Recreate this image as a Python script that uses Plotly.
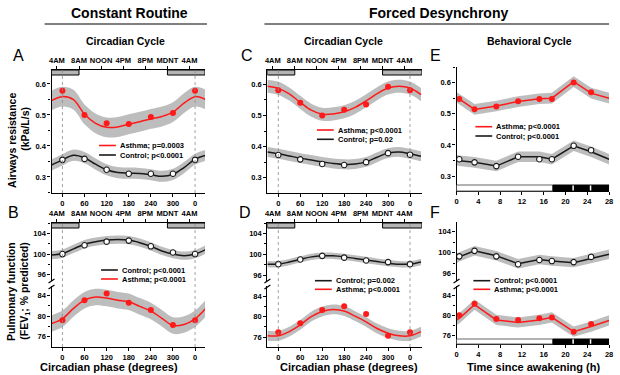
import plotly.graph_objects as go

# ---------------- data ----------------
phase_pts = [0, 60, 120, 180, 240, 300, 360]
phase_fit = [-30, 0, 30, 60, 90, 120, 150, 180, 210, 240, 270, 300, 330, 360, 390]
phase_ticks = [0, 60, 120, 180, 240, 300, 360]
phase_ticktext = ["0", "60", "120", "180", "240", "300", "0"]
clock_ticks = [-15, 45, 105, 165, 225, 285, 345]
clock_labels = ["4AM", "8AM", "NOON", "4PM", "8PM", "MDNT", "4AM"]
sleep_start_deg = 285   # MDNT
sleep_end_deg = 45      # 8AM
ref_phase_lines = [0, 360]

# Panel A - airway resistance, constant routine
A_asthma_pts = [0.578, 0.500, 0.473, 0.471, 0.493, 0.506, 0.578]
A_asthma_fit = [0.546, 0.559, 0.549, 0.502, 0.473, 0.460, 0.461, 0.470, 0.478, 0.487, 0.495, 0.509, 0.538, 0.559, 0.549]
A_asthma_ci = 0.032
A_ctrl_pts = [0.355, 0.358, 0.323, 0.310, 0.310, 0.310, 0.355]
A_ctrl_fit = [0.338, 0.355, 0.370, 0.362, 0.341, 0.323, 0.314, 0.312, 0.311, 0.307, 0.302, 0.308, 0.330, 0.357, 0.370]
A_ctrl_ci = 0.018

# Panel B - FEV1, constant routine
B_ctrl_pts = [100.0, 101.7, 102.4, 102.6, 101.5, 100.3, 100.0]
B_ctrl_fit = [99.8, 100.1, 101.0, 101.9, 102.4, 102.7, 102.8, 102.7, 102.2, 101.5, 100.6, 100.0, 99.7, 100.0, 100.9]
B_ctrl_ci = 0.8
B_asthma_pts = [79.2, 83.1, 84.4, 82.6, 81.2, 78.3, 79.2]
B_asthma_fit = [78.6, 79.5, 81.5, 83.1, 83.7, 83.5, 83.1, 82.8, 81.9, 81.0, 79.6, 78.2, 78.4, 79.5, 81.6]
B_asthma_ci = 1.6

# Panel C - airway resistance, forced desynchrony (circadian)
C_asthma_pts = [0.581, 0.541, 0.500, 0.518, 0.535, 0.592, 0.581]
C_asthma_fit = [0.594, 0.587, 0.569, 0.542, 0.517, 0.504, 0.505, 0.512, 0.526, 0.547, 0.570, 0.588, 0.594, 0.588, 0.567]
C_asthma_ci = 0.021
C_ctrl_pts = [0.373, 0.359, 0.344, 0.341, 0.350, 0.379, 0.374]
C_ctrl_fit = [0.383, 0.377, 0.370, 0.363, 0.357, 0.351, 0.346, 0.343, 0.344, 0.351, 0.366, 0.379, 0.383, 0.377, 0.369]
C_ctrl_ci = 0.016

# Panel D - FEV1, forced desynchrony (circadian)
D_ctrl_pts = [98.1, 99.0, 99.7, 99.35, 98.8, 98.5, 98.1]
D_ctrl_fit = [98.1, 98.1, 98.5, 99.0, 99.5, 99.7, 99.7, 99.5, 99.2, 98.9, 98.6, 98.3, 98.1, 98.1, 98.5]
D_ctrl_ci = 0.6
D_asthma_pts = [77.0, 78.7, 81.3, 82.0, 80.5, 76.3, 77.0]
D_asthma_fit = [76.3, 76.3, 77.1, 78.4, 80.0, 81.0, 81.4, 81.1, 80.1, 79.0, 77.7, 76.8, 76.3, 76.3, 77.1]
D_asthma_ci = 0.95

# Panels E/F - behavioral cycle
hours_pts = [0.5, 3.3, 7.3, 11.3, 15.2, 17.5, 21.5, 24.7]
hours_fit = [0, 0.5, 3.3, 7.3, 11.3, 15.2, 17.5, 21.5, 24.7, 28]
hours_ticks = [0, 4, 8, 12, 16, 20, 24, 28]
wake_period_h = [0, 17.7]
sleep_period_h = [17.7, 28]
sleep_gaps_h = [21.4, 24.6]

E_asthma_pts = [0.547, 0.514, 0.523, 0.540, 0.547, 0.547, 0.600, 0.569]
E_asthma_fit = [0.553, 0.547, 0.514, 0.525, 0.539, 0.548, 0.550, 0.603, 0.566, 0.550]
E_asthma_ci = 0.017
E_ctrl_pts = [0.354, 0.344, 0.332, 0.362, 0.354, 0.354, 0.397, 0.383]
E_ctrl_fit = [0.351, 0.349, 0.344, 0.332, 0.362, 0.362, 0.354, 0.397, 0.378, 0.354]
E_ctrl_ci = 0.017

F_ctrl_pts = [99.3, 100.35, 99.3, 97.8, 98.6, 98.4, 98.2, 99.2]
F_ctrl_fit = [98.9, 99.2, 100.35, 99.4, 97.9, 98.7, 98.4, 98.1, 98.9, 99.7]
F_ctrl_ci = 0.9
F_asthma_pts = [80.0, 82.3, 79.3, 79.1, 79.45, 79.6, 76.8, 78.3]
F_asthma_fit = [79.1, 79.4, 82.1, 79.1, 78.6, 79.1, 79.6, 76.8, 77.8, 79.0]
F_asthma_ci = 1.0

# ---------------- style ----------------
FONT = "Liberation Sans, Arial, Helvetica, sans-serif"
RED = "#ff1a1a"
BLACK = "#1a1a1a"
BAND = "#bdbdbd"
W, H = 620, 375


def px(x):
    return x / W


def py(y):
    return 1 - y / H


fig = go.Figure()


def add_series(xa, ya, xfit, yfit, ci, xpts, ypts, asthma, shape):
    lo = [v - ci for v in yfit]
    hi = [v + ci for v in yfit]
    fig.add_trace(go.Scatter(x=xfit, y=lo, mode="lines", line=dict(width=0, shape=shape),
                             xaxis=xa, yaxis=ya, showlegend=False, hoverinfo="skip"))
    fig.add_trace(go.Scatter(x=xfit, y=hi, mode="lines", line=dict(width=0, shape=shape),
                             fill="tonexty", fillcolor=BAND, xaxis=xa, yaxis=ya,
                             showlegend=False, hoverinfo="skip"))
    fig.add_trace(go.Scatter(x=xfit, y=yfit, mode="lines",
                             line=dict(color=RED if asthma else BLACK, width=1.5, shape=shape),
                             xaxis=xa, yaxis=ya, showlegend=False))
    if asthma:
        mk = dict(color=RED, size=6, symbol="circle")
    else:
        mk = dict(color="white", size=5.5, symbol="circle", line=dict(color=BLACK, width=1.1))
    fig.add_trace(go.Scatter(x=xpts, y=ypts, mode="markers", marker=mk,
                             xaxis=xa, yaxis=ya, showlegend=False))


# A
add_series("x", "y", phase_fit, A_asthma_fit, A_asthma_ci, phase_pts, A_asthma_pts, True, "spline")
add_series("x", "y", phase_fit, A_ctrl_fit, A_ctrl_ci, phase_pts, A_ctrl_pts, False, "spline")
# B (upper y3 control, lower y2 asthma)
add_series("x2", "y3", phase_fit, B_ctrl_fit, B_ctrl_ci, phase_pts, B_ctrl_pts, False, "spline")
add_series("x2", "y2", phase_fit, B_asthma_fit, B_asthma_ci, phase_pts, B_asthma_pts, True, "spline")
# C
add_series("x3", "y4", phase_fit, C_asthma_fit, C_asthma_ci, phase_pts, C_asthma_pts, True, "spline")
add_series("x3", "y4", phase_fit, C_ctrl_fit, C_ctrl_ci, phase_pts, C_ctrl_pts, False, "spline")
# D
add_series("x4", "y6", phase_fit, D_ctrl_fit, D_ctrl_ci, phase_pts, D_ctrl_pts, False, "spline")
add_series("x4", "y5", phase_fit, D_asthma_fit, D_asthma_ci, phase_pts, D_asthma_pts, True, "spline")
# E
add_series("x5", "y7", hours_fit, E_asthma_fit, E_asthma_ci, hours_pts, E_asthma_pts, True, "linear")
add_series("x5", "y7", hours_fit, E_ctrl_fit, E_ctrl_ci, hours_pts, E_ctrl_pts, False, "linear")
# F
add_series("x6", "y9", hours_fit, F_ctrl_fit, F_ctrl_ci, hours_pts, F_ctrl_pts, False, "linear")
add_series("x6", "y8", hours_fit, F_asthma_fit, F_asthma_ci, hours_pts, F_asthma_pts, True, "linear")

# empty traces so that the top (clock time) axes get drawn
for xa, ya in [("x7", "y"), ("x8", "y3"), ("x9", "y4"), ("x10", "y6")]:
    fig.add_trace(go.Scatter(x=[clock_ticks[0]], y=[None], mode="markers", xaxis=xa, yaxis=ya,
                             showlegend=False, hoverinfo="skip", marker=dict(opacity=0)))

tickfont = dict(family=FONT, size=7.5, color="black", weight="bold")
common = dict(showline=True, linecolor="black", linewidth=1.4, ticks="outside", ticklen=3,
              tickwidth=1.1, tickcolor="black", showgrid=False, zeroline=False,
              tickfont=tickfont, fixedrange=True)


def xdom(a, b):
    return [px(a), px(b)]


def ydom(top, bottom):
    return [py(bottom), py(top)]


A_xr = [-29.6, 387]
C_xr = [-29.8, 392.5]
E_xr = [0, 28]

phase_x = dict(tickmode="array", tickvals=phase_ticks, ticktext=phase_ticktext)
clock_x = dict(tickmode="array", tickvals=clock_ticks, ticktext=clock_labels, side="top")
res_y = dict(tick0=0, dtick=0.1, tickformat=".1f",
             minor=dict(ticks="outside", ticklen=2, tickcolor="black", dtick=0.05, tick0=0))
fev_y = dict(tick0=0, dtick=4,
             minor=dict(ticks="outside", ticklen=2, tickcolor="black", dtick=2, tick0=0))

layout = dict(
    width=W, height=H, autosize=False, margin=dict(l=0, r=0, t=0, b=0),
    paper_bgcolor="white", plot_bgcolor="white", showlegend=False,
    font=dict(family=FONT, color="black"),
    # A
    xaxis=dict(domain=xdom(50, 205), range=A_xr, anchor="y", **phase_x, **common),
    yaxis=dict(domain=ydom(70, 193), range=[0.248, 0.645], anchor="x", **res_y, **common),
    xaxis7=dict(overlaying="x", anchor="y", range=A_xr, **clock_x, **common),
    # B
    xaxis2=dict(domain=xdom(50, 205), range=A_xr, anchor="y2", **phase_x, **common),
    yaxis2=dict(domain=ydom(286, 347), range=[74.04, 85.84], anchor="x2", **fev_y, **common),
    yaxis3=dict(domain=ydom(223, 281), range=[94.8, 106.0], anchor="x2", **fev_y, **common),
    xaxis8=dict(overlaying="x2", anchor="y3", range=A_xr, **clock_x, **common),
    # C
    xaxis3=dict(domain=xdom(268, 424), range=C_xr, anchor="y4", **phase_x, **common),
    yaxis4=dict(domain=ydom(70, 193), range=[0.251, 0.646], anchor="x3", **res_y, **common),
    xaxis9=dict(overlaying="x3", anchor="y4", range=C_xr, **clock_x, **common),
    # D
    xaxis4=dict(domain=xdom(268, 424), range=C_xr, anchor="y5", **phase_x, **common),
    yaxis5=dict(domain=ydom(286, 347), range=[74.12, 85.94], anchor="x4", **fev_y, **common),
    yaxis6=dict(domain=ydom(223, 281), range=[94.87, 106.0], anchor="x4", **fev_y, **common),
    xaxis10=dict(overlaying="x4", anchor="y6", range=C_xr, **clock_x, **common),
    # E
    xaxis5=dict(domain=xdom(459, 613), range=E_xr, anchor="y7", tickmode="array",
                tickvals=hours_ticks, **common),
    yaxis7=dict(domain=ydom(67, 191), range=[0.252, 0.650], anchor="x5", **res_y, **common),
    # F
    xaxis6=dict(domain=xdom(459, 613), range=E_xr, anchor="y8", tickmode="array",
                tickvals=hours_ticks, **common),
    yaxis8=dict(domain=ydom(286, 344), range=[74.37, 85.77], anchor="x6", **fev_y, **common),
    yaxis9=dict(domain=ydom(222, 281), range=[94.6, 105.85], anchor="x6", **fev_y, **common),
)
fig.update_layout(**layout)

shapes = []
annotations = []

# top clock bars (sleep episodes) and dotted reference lines
for xa, ya, xr, bar_frac in [("x", "y", A_xr, 5 / 123), ("x2", "y3", A_xr, 5 / 58),
                             ("x3", "y4", C_xr, 5 / 123), ("x4", "y6", C_xr, 5 / 58)]:
    for x0, x1 in [(xr[0], sleep_end_deg), (sleep_start_deg, xr[1])]:
        shapes.append(dict(type="rect", xref=xa, yref=f"{ya} domain", x0=x0, x1=x1,
                           y0=1 - bar_frac, y1=1, fillcolor="#b4b4b4",
                           line=dict(color="black", width=1)))

for xa, top, bottom in [("x", 70, 193), ("x2", 223, 347), ("x3", 70, 193), ("x4", 223, 347)]:
    for xv in ref_phase_lines:
        shapes.append(dict(type="line", xref=xa, yref="paper", x0=xv, x1=xv,
                           y0=py(bottom), y1=py(top),
                           line=dict(color="#8a8a8a", width=0.8, dash="dot")))

# wake/sleep bars on behavioural cycle panels
for xa, ya, frac in [("x5", "y7", 6 / 124), ("x6", "y8", 5 / 58)]:
    shapes.append(dict(type="rect", xref=xa, yref=f"{ya} domain", x0=wake_period_h[0],
                       x1=wake_period_h[1], y0=0, y1=frac, fillcolor="white",
                       line=dict(color="#666666", width=1)))
    shapes.append(dict(type="rect", xref=xa, yref=f"{ya} domain", x0=sleep_period_h[0],
                       x1=sleep_period_h[1], y0=0, y1=frac, fillcolor="black",
                       line=dict(color="black", width=1)))
    for g in sleep_gaps_h:
        shapes.append(dict(type="line", xref=xa, yref=f"{ya} domain", x0=g, x1=g,
                           y0=0.005, y1=frac - 0.005, line=dict(color="white", width=1.5)))

# axis break marks
for xb in [50, 268, 459]:
    for yb in [281, 287]:
        shapes.append(dict(type="line", xref="paper", yref="paper",
                           x0=px(xb - 3), x1=px(xb + 3), y0=py(yb + 2), y1=py(yb - 2),
                           line=dict(color="black", width=1.2)))

# header rules
shapes.append(dict(type="line", xref="paper", yref="paper", x0=px(43), x1=px(207),
                   y0=py(24), y1=py(24), line=dict(color="black", width=1)))
shapes.append(dict(type="line", xref="paper", yref="paper", x0=px(265), x1=px(613),
                   y0=py(24), y1=py(24), line=dict(color="black", width=1)))


def text(x, y, s, size, bold=True, angle=0, xanchor="center"):
    annotations.append(dict(x=px(x), y=py(y), xref="paper", yref="paper", text=s,
                            showarrow=False, xanchor=xanchor, yanchor="middle",
                            textangle=angle,
                            font=dict(family=FONT, size=size, color="black",
                                      weight="bold" if bold else "normal")))


text(129, 13, "Constant Routine", 14)
text(441, 13, "Forced Desynchrony", 14)
text(125, 41, "Circadian Cycle", 10.5)
text(345, 41, "Circadian Cycle", 10.5)
text(533, 41, "Behavioral Cycle", 10.5)

for lab, x, y in [("A", 17, 56), ("B", 12, 212), ("C", 247, 55), ("D", 245, 212),
                  ("E", 438, 55), ("F", 437, 212)]:
    text(x, y, lab, 16, bold=False)

text(10, 140, "Airways resistance", 10.5, angle=-90)
text(23, 129, "(kPa/L/s)", 10.5, angle=-90)
text(9, 291, "Pulmonary function", 10.5, angle=-90)
text(23, 291, "(FEV<sub>1</sub>; % predicted)", 10.5, angle=-90)

text(108, 367, "Circadian phase (degrees)", 11)
text(350, 367, "Circadian phase (degrees)", 11)
text(537, 367, "Time since awakening (h)", 11)

# legends
legends = [
    (98, 115, 145.5, RED, "Asthma; p=0.0003"),
    (98, 115, 155, BLACK, "Control; p<0.0001"),
    (100, 117, 270, BLACK, "Control; p<0.0001"),
    (100, 117, 279, RED, "Asthma; p<0.0001"),
    (318, 335, 130, RED, "Asthma; p<0.0001"),
    (318, 335, 139.3, BLACK, "Control; p=0.02"),
    (316, 333, 280.7, BLACK, "Control; p=0.002"),
    (316, 333, 289.3, RED, "Asthma; p<0.0001"),
    (478, 495, 126.7, RED, "Asthma; p<0.0001"),
    (478, 495, 136, BLACK, "Control; p<0.0001"),
    (476, 493, 280.7, BLACK, "Control; p<0.0001"),
    (476, 493, 289.3, RED, "Asthma; p<0.0001"),
]
for x0, x1, y, col, lab in legends:
    shapes.append(dict(type="line", xref="paper", yref="paper", x0=px(x0), x1=px(x1),
                       y0=py(y), y1=py(y), line=dict(color=col, width=1.6)))
    text(x1 + 2, y, lab, 7.5, xanchor="left")

fig.update_layout(shapes=shapes, annotations=annotations)
fig.write_html("out.html", config={"displayModeBar": False},
               post_script="document.body.style.margin='0';document.body.style.overflow='hidden';")
